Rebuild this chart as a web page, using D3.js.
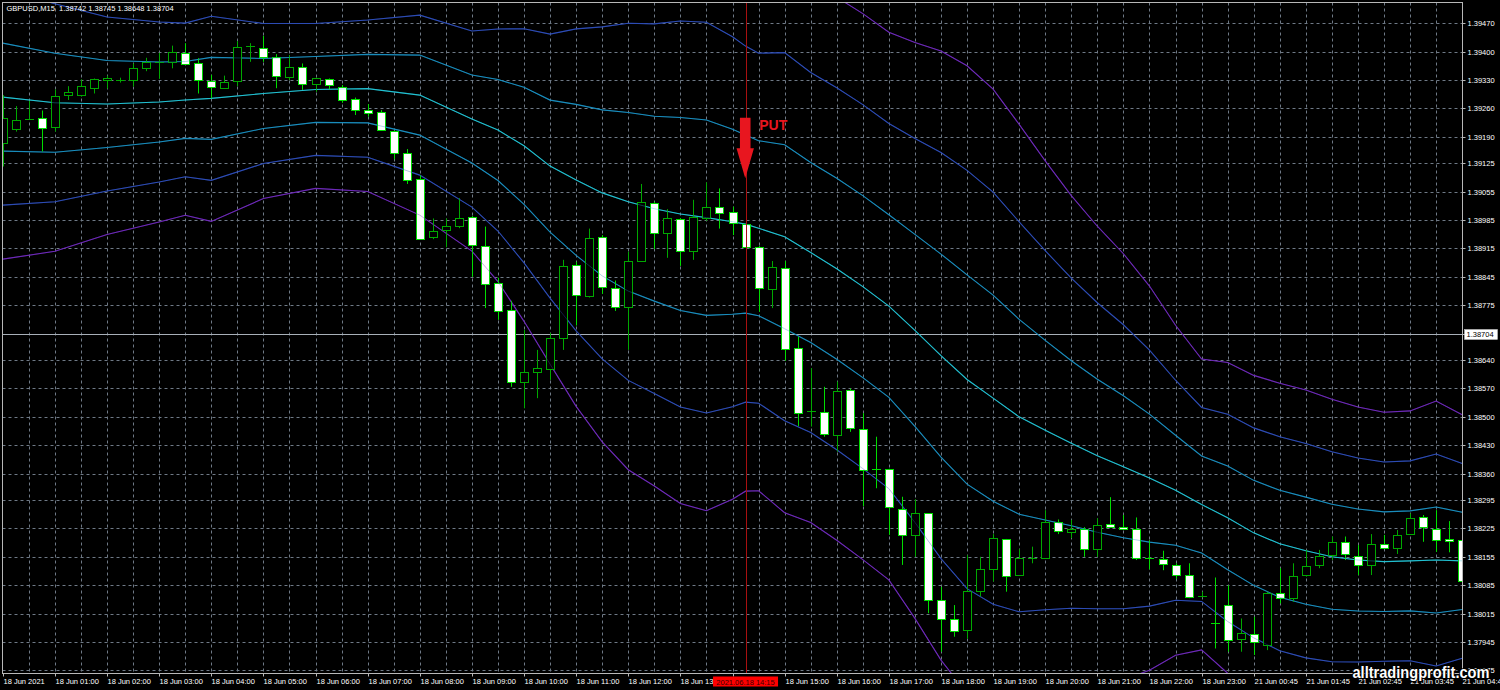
<!DOCTYPE html>
<html><head><meta charset="utf-8">
<script src="https://cdn.jsdelivr.net/npm/d3@7"></script>
<style>
html,body{margin:0;padding:0;background:#000;overflow:hidden;}
svg{display:block;}
text{font-family:"Liberation Sans",Arial,sans-serif;}
</style></head><body>
<svg id="chart" width="1500" height="690"></svg>
<script>
// ---------- DATA ----------
const symbolTitle = "GBPUSD,M15  1.38742 1.38745 1.38648 1.38704";
const currentPrice = 1.38704;
const signalBar = 57;
const signalLabel = "2021.06.18 14:15";
const putText = "PUT";
const putTopPrice = 1.39237, putTipPrice = 1.39088;
const watermark = "alltradingprofit.com";

const openP = [1.39176,1.39209,1.39233,1.39236,1.39214,1.39292,1.39293,1.39312,1.39329,1.39330,
1.39332,1.39360,1.39373,1.39374,1.39398,1.39373,1.39328,1.39310,1.39328,1.39413,
1.39410,1.39388,1.39338,1.39362,1.39318,1.39332,1.39314,1.39284,1.39256,1.39251,
1.39205,1.39150,1.39086,1.38943,1.38961,1.38969,1.38993,1.38921,1.38829,1.38763,
1.38586,1.38609,1.38618,1.38696,1.38875,1.38800,1.38943,1.38817,1.38770,1.38884,
1.39028,1.38952,1.38988,1.38909,1.38988,1.39018,1.39004,1.38975,1.38919,1.38814,
1.38868,1.38670,1.38513,1.38511,1.38455,1.38566,1.38469,1.38372,1.38371,1.38274,
1.38210,1.38262,1.38049,1.38001,1.37975,1.38071,1.38125,1.38198,1.38110,1.38152,
1.38154,1.38240,1.38217,1.38224,1.38174,1.38236,1.38229,1.38224,1.38152,1.38150,
1.38135,1.38110,1.38058,1.37992,1.38036,1.37952,1.37965,1.37938,1.38067,1.38055,
1.38110,1.38135,1.38158,1.38191,1.38158,1.38135,1.38187,1.38178,1.38211,1.38252,
1.38223,1.38199,1.38196];
const highP = [1.39293,1.39266,1.39279,1.39255,1.39307,1.39315,1.39332,1.39334,1.39341,1.39336,
1.39371,1.39385,1.39397,1.39415,1.39421,1.39384,1.39343,1.39341,1.39426,1.39421,
1.39439,1.39394,1.39392,1.39371,1.39336,1.39334,1.39318,1.39287,1.39271,1.39256,
1.39206,1.39160,1.39096,1.38989,1.38989,1.39039,1.38995,1.38969,1.38843,1.38786,
1.38714,1.38665,1.38707,1.38887,1.38882,1.38964,1.38948,1.38836,1.38907,1.39074,
1.39030,1.39012,1.38990,1.39035,1.39078,1.39063,1.39018,1.38980,1.38921,1.38884,
1.38884,1.38697,1.38620,1.38574,1.38587,1.38570,1.38509,1.38451,1.38372,1.38303,
1.38297,1.38263,1.38081,1.38036,1.38159,1.38155,1.38211,1.38199,1.38174,1.38180,
1.38270,1.38247,1.38246,1.38228,1.38250,1.38302,1.38258,1.38252,1.38196,1.38170,
1.38139,1.38139,1.38069,1.38104,1.38085,1.38003,1.38007,1.38069,1.38127,1.38139,
1.38172,1.38172,1.38205,1.38205,1.38184,1.38211,1.38209,1.38221,1.38262,1.38258,
1.38270,1.38243,1.38223];
const lowP = [1.39117,1.39203,1.39232,1.39154,1.39203,1.39281,1.39289,1.39297,1.39309,1.39324,
1.39314,1.39352,1.39333,1.39359,1.39370,1.39297,1.39285,1.39309,1.39315,1.39375,
1.39375,1.39310,1.39330,1.39306,1.39301,1.39307,1.39274,1.39244,1.39240,1.39206,
1.39135,1.39074,1.38936,1.38938,1.38918,1.38965,1.38845,1.38768,1.38739,1.38574,
1.38521,1.38546,1.38591,1.38665,1.38725,1.38794,1.38803,1.38761,1.38665,1.38883,
1.38914,1.38892,1.38872,1.38887,1.38983,1.38964,1.38948,1.38917,1.38759,1.38768,
1.38638,1.38477,1.38476,1.38451,1.38414,1.38463,1.38280,1.38324,1.38209,1.38135,
1.38155,1.38016,1.37921,1.37958,1.37953,1.38057,1.38094,1.38069,1.38109,1.38139,
1.38153,1.38211,1.38201,1.38155,1.38155,1.38226,1.38221,1.38147,1.38124,1.38122,
1.38100,1.38053,1.38055,1.37929,1.37921,1.37921,1.37913,1.37925,1.38040,1.38044,
1.38106,1.38127,1.38147,1.38147,1.38110,1.38110,1.38176,1.38162,1.38210,1.38192,
1.38167,1.38166,1.38096];
const closeP = [1.39237,1.39232,1.39234,1.39212,1.39290,1.39300,1.39315,1.39333,1.39334,1.39331,
1.39361,1.39374,1.39374,1.39399,1.39371,1.39330,1.39312,1.39325,1.39412,1.39414,
1.39388,1.39340,1.39363,1.39320,1.39334,1.39316,1.39283,1.39258,1.39248,1.39207,
1.39150,1.39084,1.38939,1.38957,1.38970,1.38989,1.38923,1.38827,1.38761,1.38586,
1.38610,1.38620,1.38694,1.38873,1.38800,1.38942,1.38819,1.38769,1.38883,1.39030,
1.38955,1.38989,1.38909,1.38993,1.39016,1.39002,1.38977,1.38918,1.38818,1.38869,
1.38668,1.38510,1.38514,1.38458,1.38564,1.38472,1.38367,1.38371,1.38277,1.38209,
1.38264,1.38047,1.38001,1.37972,1.38071,1.38124,1.38201,1.38108,1.38151,1.38153,
1.38242,1.38217,1.38224,1.38174,1.38233,1.38229,1.38224,1.38153,1.38151,1.38137,
1.38110,1.38057,1.38059,1.37991,1.37950,1.37966,1.37946,1.38066,1.38055,1.38108,
1.38133,1.38158,1.38191,1.38162,1.38135,1.38187,1.38178,1.38209,1.38251,1.38228,
1.38196,1.38195,1.38096];

// Bollinger-type bands: middle line and deviation read at these bars
const bandBars = [0,4,8,12,14,16,20,24,28,32,36,38,40,42,44,46,48,50,52,54,56,57,58,60,62,64,66,68,70,72,74,76,78,80,82,84,86,88,90,92,94,96,98,100,102,104,106,108,110,112];
const bandMid = [1.39288,1.39274,1.39271,1.39276,1.39281,1.39285,1.39297,1.39307,1.39309,1.39293,
1.39234,1.39207,1.39168,1.39118,1.39084,1.39052,1.39030,1.39013,1.39000,1.38991,
1.38981,1.38975,1.38965,1.38944,1.38905,1.38865,1.38821,1.38773,1.38713,1.38651,
1.38592,1.38546,1.38500,1.38467,1.38435,1.38404,1.38377,1.38349,1.38319,1.38284,
1.38251,1.38214,1.38187,1.38170,1.38155,1.38147,1.38143,1.38145,1.38147,1.38145];
const bandDev = [0.001331,0.001220,0.001072,0.000986,0.000947,0.001011,0.000863,0.000813,0.000845,0.000986,
0.001085,0.001245,0.001442,0.001627,0.001861,0.002046,0.002201,0.002278,0.002379,0.002408,
0.002280,0.002194,0.002157,0.002268,0.002218,0.002231,0.002243,0.002250,0.002366,0.002502,
0.002578,0.002539,0.002403,0.002213,0.002034,0.001886,0.001750,0.001578,0.001356,0.001195,
0.001277,0.001294,0.001319,0.001321,0.001294,0.001257,0.001228,0.001232,0.001306,0.001200];
const bandLevels = [3,2,1,0,-1,-2,-3];
const bandColors = {"3":"#6d2ab8","2":"#2d4cb4","1":"#1a8cbc","0":"#22bfd0","-1":"#1a8cbc","-2":"#2d4cb4","-3":"#6d2ab8"};

const yTicks = [1.39470,1.39400,1.39330,1.39260,1.39190,1.39125,1.39055,1.38985,1.38915,1.38845,1.38775,1.38705,
1.38640,1.38570,1.38500,1.38430,1.38360,1.38295,1.38225,1.38155,1.38085,1.38015,1.37945,1.37875];
const xTickBars = [0,4,8,12,16,20,24,28,32,36,40,44,48,52,56,60,64,68,72,76,80,84,88,92,96,100,104,108,112];
const xTickLabels = ["18 Jun 2021","18 Jun 01:00","18 Jun 02:00","18 Jun 03:00","18 Jun 04:00","18 Jun 05:00",
"18 Jun 06:00","18 Jun 07:00","18 Jun 08:00","18 Jun 09:00","18 Jun 10:00","18 Jun 11:00","18 Jun 12:00",
"18 Jun 13:00","18 Jun 14:00","18 Jun 15:00","18 Jun 16:00","18 Jun 17:00","18 Jun 18:00","18 Jun 19:00",
"18 Jun 20:00","18 Jun 21:00","18 Jun 22:00","18 Jun 23:00","21 Jun 00:45","21 Jun 01:45","21 Jun 02:45",
"21 Jun 03:45","21 Jun 04:45"];

// ---------- LAYOUT ----------
const svg = d3.select("#chart");
const P = {left:2.5, top:2.5, right:1462.5, bottom:673.5};
const x = d3.scaleLinear().domain([0,112]).range([2.8,1462.2]);
const y = d3.scaleLinear().domain([1.37875,1.39470]).range([670.4,23.3]);
const crisp = v => Math.round(v) + 0.5;
const FS = "7.5px";

svg.append("rect").attr("width",1500).attr("height",690).attr("fill","#000");
svg.append("defs").append("clipPath").attr("id","clip").append("rect")
  .attr("x",P.left).attr("y",P.top).attr("width",P.right-P.left).attr("height",P.bottom-P.top);
const plot = svg.append("g").attr("clip-path","url(#clip)");

// grid
const gridColor = "#6f7a86";
plot.append("g").selectAll("line").data(yTicks).join("line")
  .attr("x1",P.left).attr("x2",P.right)
  .attr("y1",d=>crisp(y(d))).attr("y2",d=>crisp(y(d)))
  .attr("stroke",gridColor).attr("stroke-dasharray","3,3");
plot.append("g").selectAll("line").data(d3.range(2,112,2)).join("line")
  .attr("y1",P.top).attr("y2",P.bottom)
  .attr("x1",d=>crisp(x(d))).attr("x2",d=>crisp(x(d)))
  .attr("stroke",gridColor).attr("stroke-dasharray","3,3");

// current price line
plot.append("line").attr("x1",P.left).attr("x2",P.right)
  .attr("y1",crisp(y(currentPrice))).attr("y2",crisp(y(currentPrice)))
  .attr("stroke","#a8b0b8").attr("stroke-width",1);

// bands
const bandPts = bandBars.map((b,i)=>({b, m:bandMid[i], d:bandDev[i]}));
const lineGen = k => d3.line().x(p=>x(p.b)).y(p=>y(p.m + k*p.d))(bandPts);
const bandsUnder = plot.append("g");
bandLevels.forEach(k=>{
  bandsUnder.append("path").attr("d",lineGen(k)).attr("fill","none")
    .attr("stroke",bandColors[String(k)]).attr("stroke-width",1.1);
});

// candles
const candles = d3.range(openP.length).map(i=>({i,o:openP[i],h:highP[i],l:lowP[i],c:closeP[i]}));
const bullCol = "#00a800", bearCol = "#00dd00";
const cg = plot.append("g");
candles.forEach(d=>{
  const X = crisp(x(d.i));
  const col = d.c < d.o ? bearCol : bullCol;
  cg.append("line").attr("x1",X).attr("x2",X).attr("y1",y(d.h)).attr("y2",y(d.l))
    .attr("stroke",col).attr("stroke-width",1);
  const t = Math.min(y(d.o),y(d.c)), b = Math.max(y(d.o),y(d.c));
  if (b - t < 1.5) {
    cg.append("line").attr("x1",X-4.5).attr("x2",X+4.5)
      .attr("y1",crisp(y(d.c))).attr("y2",crisp(y(d.c))).attr("stroke",col);
  } else {
    cg.append("rect").attr("x",X-4).attr("y",crisp(t)).attr("width",8)
      .attr("height",Math.max(1,Math.round(b-t)))
      .attr("fill", d.c < d.o ? "#ffffff" : "#000000")
      .attr("stroke",col).attr("stroke-width",1);
  }
});

// bands faint overlay (so lines remain visible across candle bodies)
const bandsOver = plot.append("g").attr("opacity",0.35);
bandLevels.forEach(k=>{
  bandsOver.append("path").attr("d",lineGen(k)).attr("fill","none")
    .attr("stroke",bandColors[String(k)]).attr("stroke-width",1);
});

// signal vertical line
plot.append("line").attr("x1",crisp(x(signalBar))).attr("x2",crisp(x(signalBar)))
  .attr("y1",P.top).attr("y2",P.bottom).attr("stroke","#a81010").attr("stroke-width",1);

// PUT arrow
const ax = x(signalBar) - 0.3, yTop = y(putTopPrice), yTip = y(putTipPrice);
const headY = yTip - 30, sw = 5.3, hw = 8.7;
plot.append("path")
  .attr("d",`M${ax-sw},${yTop}L${ax+sw},${yTop}L${ax+sw},${headY}L${ax+hw},${headY}L${ax},${yTip}L${ax-hw},${headY}L${ax-sw},${headY}Z`)
  .attr("fill","#e8161f");
plot.append("text").attr("x",ax+14).attr("y",yTop+12).text(putText)
  .attr("fill","#e8161f").attr("font-size","14px").attr("font-weight","bold");

// frame
svg.append("rect").attr("x",P.left).attr("y",P.top).attr("width",P.right-P.left).attr("height",P.bottom-P.top)
  .attr("fill","none").attr("stroke","#b8b8b8").attr("stroke-width",1);

// y axis
const yAxis = d3.axisRight(y).tickValues(yTicks).tickSize(3).tickPadding(2).tickFormat(d3.format(".5f"));
const gy = svg.append("g").attr("transform",`translate(${P.right},0)`).call(yAxis);
gy.select(".domain").remove();
gy.selectAll(".tick line").attr("stroke","#b8b8b8");
gy.selectAll(".tick").attr("transform",d=>`translate(0,${crisp(y(d))})`);
gy.selectAll("text").attr("fill","#ffffff").style("font-size",FS).style("font-family","'Liberation Sans',Arial,sans-serif");

// x axis
const xAxis = d3.axisBottom(x).tickValues(xTickBars).tickSize(3).tickFormat((d,i)=>xTickLabels[i]);
const gx = svg.append("g").attr("transform",`translate(0,${P.bottom})`).call(xAxis);
gx.select(".domain").remove();
gx.selectAll(".tick").attr("transform",d=>`translate(${crisp(x(d))},0)`);
gx.selectAll(".tick line").attr("stroke","#b8b8b8");
gx.selectAll("text").attr("fill","#ffffff").attr("text-anchor","start").attr("x",0).attr("y",5)
  .style("font-size",FS).style("font-family","'Liberation Sans',Arial,sans-serif");

// current price box
const cpY = crisp(y(currentPrice));
svg.append("rect").attr("x",P.right+2).attr("y",cpY-5).attr("width",33).attr("height",10)
  .attr("fill","#ffffff").attr("stroke","#cccccc").attr("stroke-width",0.5);
svg.append("text").attr("x",P.right+4).attr("y",cpY+2.8).text(d3.format(".5f")(currentPrice))
  .attr("fill","#000").style("font-size",FS);

// signal time label
const sx = x(signalBar);
svg.append("rect").attr("x",sx-32.5).attr("y",P.bottom+3).attr("width",65).attr("height",10).attr("fill","#ff0000");
svg.append("text").attr("x",sx).attr("y",P.bottom+11).attr("text-anchor","middle").text(signalLabel)
  .attr("fill","#3a0000").style("font-size",FS);

// title
svg.append("text").attr("x",6.5).attr("y",11).text(symbolTitle).attr("fill","#ffffff").style("font-size",FS)
  .attr("xml:space","preserve");

// watermark
svg.append("text").attr("x",1352.5).attr("y",678).text(watermark)
  .attr("fill","#ffffff").attr("stroke","#000").attr("stroke-width",2).attr("paint-order","stroke")
  .attr("font-weight","bold").style("font-size","16px").attr("textLength",137).attr("lengthAdjust","spacingAndGlyphs");
</script>
</body></html>
